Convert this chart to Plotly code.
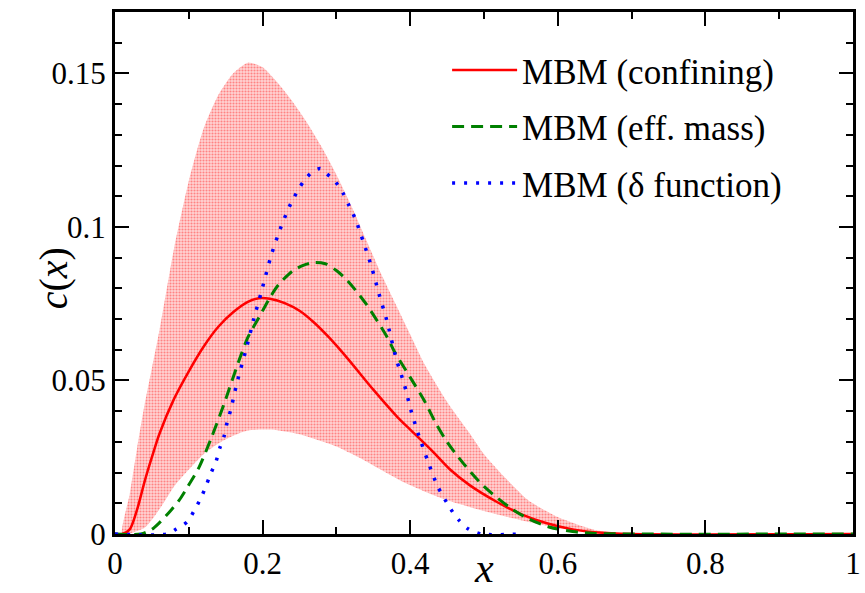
import plotly.graph_objects as go

# Uncertainty band of the confining-model result
band_x_up = [0.01, 0.02, 0.03, 0.04, 0.05, 0.06, 0.08, 0.10, 0.12, 0.14, 0.16, 0.18, 0.20,
             0.22, 0.24, 0.26, 0.28, 0.30, 0.32, 0.34, 0.36, 0.38, 0.40, 0.42, 0.45, 0.48,
             0.50, 0.53, 0.56, 0.60, 0.65, 0.70, 1.00]
band_up = [0.0, 0.013, 0.028, 0.042, 0.054, 0.066, 0.093, 0.115, 0.132, 0.143, 0.150, 0.1535, 0.152,
           0.147, 0.141, 0.134, 0.126, 0.117, 0.107, 0.096, 0.085, 0.075, 0.065, 0.055, 0.043, 0.033,
           0.026, 0.018, 0.011, 0.0055, 0.0013, 0.0, 0.0]
band_x_lo = [0.01, 0.04, 0.06, 0.08, 0.10, 0.12, 0.14, 0.16, 0.18, 0.20, 0.22, 0.25, 0.28, 0.30,
             0.33, 0.36, 0.39, 0.42, 0.45, 0.50, 0.55, 0.60, 0.65, 0.70, 1.00]
band_lo = [0.0, 0.002, 0.008, 0.0155, 0.021, 0.026, 0.0295, 0.032, 0.0337, 0.034, 0.0338, 0.0325,
           0.0302, 0.0285, 0.025, 0.021, 0.017, 0.0138, 0.011, 0.0075, 0.0045, 0.002, 0.0007, 0.0, 0.0]

# MBM (confining)
conf_x = [0.0, 0.01, 0.02, 0.03, 0.04, 0.05, 0.06, 0.08, 0.10, 0.12, 0.14, 0.16, 0.18, 0.195,
          0.21, 0.23, 0.25, 0.27, 0.29, 0.315, 0.35, 0.383, 0.40, 0.43, 0.454, 0.48, 0.517,
          0.55, 0.584, 0.62, 0.65, 0.70, 1.00]
conf_y = [0.0, 0.0, 0.0015, 0.008, 0.017, 0.025, 0.0325, 0.044, 0.053, 0.061, 0.0675, 0.0722, 0.0756, 0.0768,
          0.0766, 0.0752, 0.0727, 0.0688, 0.064, 0.0572, 0.047, 0.038, 0.034, 0.027, 0.021, 0.016, 0.0105,
          0.0065, 0.0036, 0.0015, 0.0006, 0.0, 0.0]

# MBM (eff. mass)
eff_x = [0.0, 0.035, 0.05, 0.06, 0.075, 0.087, 0.10, 0.114, 0.13, 0.148, 0.168, 0.18, 0.195, 0.21,
         0.221, 0.24, 0.255, 0.27, 0.285, 0.30, 0.315, 0.34, 0.369, 0.378, 0.40, 0.419, 0.436, 0.45,
         0.472, 0.50, 0.534, 0.56, 0.588, 0.62, 0.65, 0.70, 1.00]
eff_y = [0.0, 0.0, 0.0015, 0.0036, 0.0075, 0.011, 0.016, 0.0218, 0.031, 0.0425, 0.0565, 0.064, 0.0705, 0.077,
         0.081, 0.0855, 0.0875, 0.0884, 0.088, 0.0858, 0.0825, 0.075, 0.064, 0.0597, 0.051, 0.0435, 0.0355, 0.030,
         0.023, 0.0155, 0.0088, 0.005, 0.0023, 0.0008, 0.0002, 0.0, 0.0]

# MBM (delta function)
delta_x = [0.0, 0.07, 0.083, 0.098, 0.107, 0.117, 0.123, 0.13, 0.137, 0.142, 0.148, 0.152, 0.157, 0.165,
           0.179, 0.188, 0.198, 0.212, 0.224, 0.238, 0.256, 0.268, 0.278, 0.286, 0.299, 0.309, 0.317,
           0.325, 0.337, 0.348, 0.358, 0.368, 0.381, 0.392, 0.401, 0.412, 0.424, 0.437, 0.455, 0.466,
           0.479, 0.497, 0.55]
delta_y = [0.0, 0.0, 0.0016, 0.004, 0.0075, 0.012, 0.0155, 0.0198, 0.0237, 0.028, 0.032, 0.0364, 0.0406, 0.049,
           0.0614, 0.070, 0.0786, 0.091, 0.0994, 0.1075, 0.115, 0.118, 0.119, 0.1175, 0.1146, 0.111, 0.107,
           0.103, 0.0948, 0.0867, 0.078, 0.0698, 0.0571, 0.0487, 0.0403, 0.0318, 0.0237, 0.0156, 0.0081, 0.0045,
           0.0016, 0.0, 0.0]

x_ticks = [0, 0.2, 0.4, 0.6, 0.8, 1]
x_tick_text = ["0", "0.2", "0.4", "0.6", "0.8", "1"]
y_ticks = [0, 0.05, 0.1, 0.15]
y_tick_text = ["0", "0.05", "0.1", "0.15"]

SERIF = "Liberation Serif"

fig = go.Figure()

# shaded band as a closed polygon: upper edge then lower edge reversed
fig.add_trace(go.Scatter(
    x=band_x_up + band_x_lo[::-1],
    y=band_up + band_lo[::-1],
    mode="lines", fill="toself",
    line=dict(width=0, color="rgba(255,0,0,0)", shape="spline", smoothing=0.6),
    fillcolor="rgba(255,180,180,1)",
    fillpattern=dict(shape=".", fgcolor="rgba(255,50,50,1)", bgcolor="rgba(255,212,212,1)",
                     size=3, solidity=0.4),
    showlegend=False, hoverinfo="skip",
))

fig.add_trace(go.Scatter(x=conf_x, y=conf_y, mode="lines", name="MBM (confining)",
                         line=dict(color="#ff0000", width=2.5, shape="spline", smoothing=0.8),
                         legendgroup="a"))
fig.add_trace(go.Scatter(x=eff_x, y=eff_y, mode="lines", name="MBM (eff. mass)",
                         line=dict(color="#008000", width=3, dash="12px,7px", shape="spline", smoothing=0.8),
                         legendgroup="b"))
fig.add_trace(go.Scatter(x=delta_x, y=delta_y, mode="lines", name="MBM (δ function)",
                         line=dict(color="#0000ff", width=3.5, dash="3px,9px", shape="spline", smoothing=0.8),
                         legendgroup="c"))

axis_common = dict(
    showline=True, linecolor="black", linewidth=3, mirror="allticks",
    ticks="inside", ticklen=14, tickwidth=2, tickcolor="black",
    showgrid=False, zeroline=False,
    tickfont=dict(family=SERIF, size=31, color="black"),
)

fig.update_xaxes(range=[0, 1], tickvals=x_ticks, ticktext=x_tick_text,
                 ticklabeloverflow="allow",
                 minor=dict(ticks="inside", dtick=0.1, ticklen=7, tickwidth=2, tickcolor="black"),
                 **axis_common)
fig.update_yaxes(range=[0, 0.17], tickvals=y_ticks, ticktext=y_tick_text,
                 minor=dict(ticks="inside", dtick=0.01, ticklen=7, tickwidth=2, tickcolor="black"),
                 **axis_common)

fig.add_annotation(text="<i>c</i>(<i>x</i>)", xref="paper", yref="paper",
                   x=-0.117, y=0.49, textangle=-90, showarrow=False,
                   font=dict(family=SERIF, size=40, color="black"))
fig.add_annotation(text="<i>x</i>", xref="paper", yref="paper",
                   x=0.5, y=-0.113, yanchor="bottom", showarrow=False,
                   font=dict(family=SERIF, size=42, color="black"))

fig.update_layout(
    width=865, height=593,
    margin=dict(l=115, r=4, t=12, b=59),
    paper_bgcolor="white", plot_bgcolor="white",
    font=dict(family=SERIF, color="black"),
    showlegend=True,
    legend=dict(x=0.45, y=0.945, xanchor="left", yanchor="top",
                bgcolor="rgba(0,0,0,0)", borderwidth=0,
                font=dict(family=SERIF, size=35, color="black"),
                itemwidth=65, traceorder="grouped", tracegroupgap=8),
)

fig.write_html("out.html")
